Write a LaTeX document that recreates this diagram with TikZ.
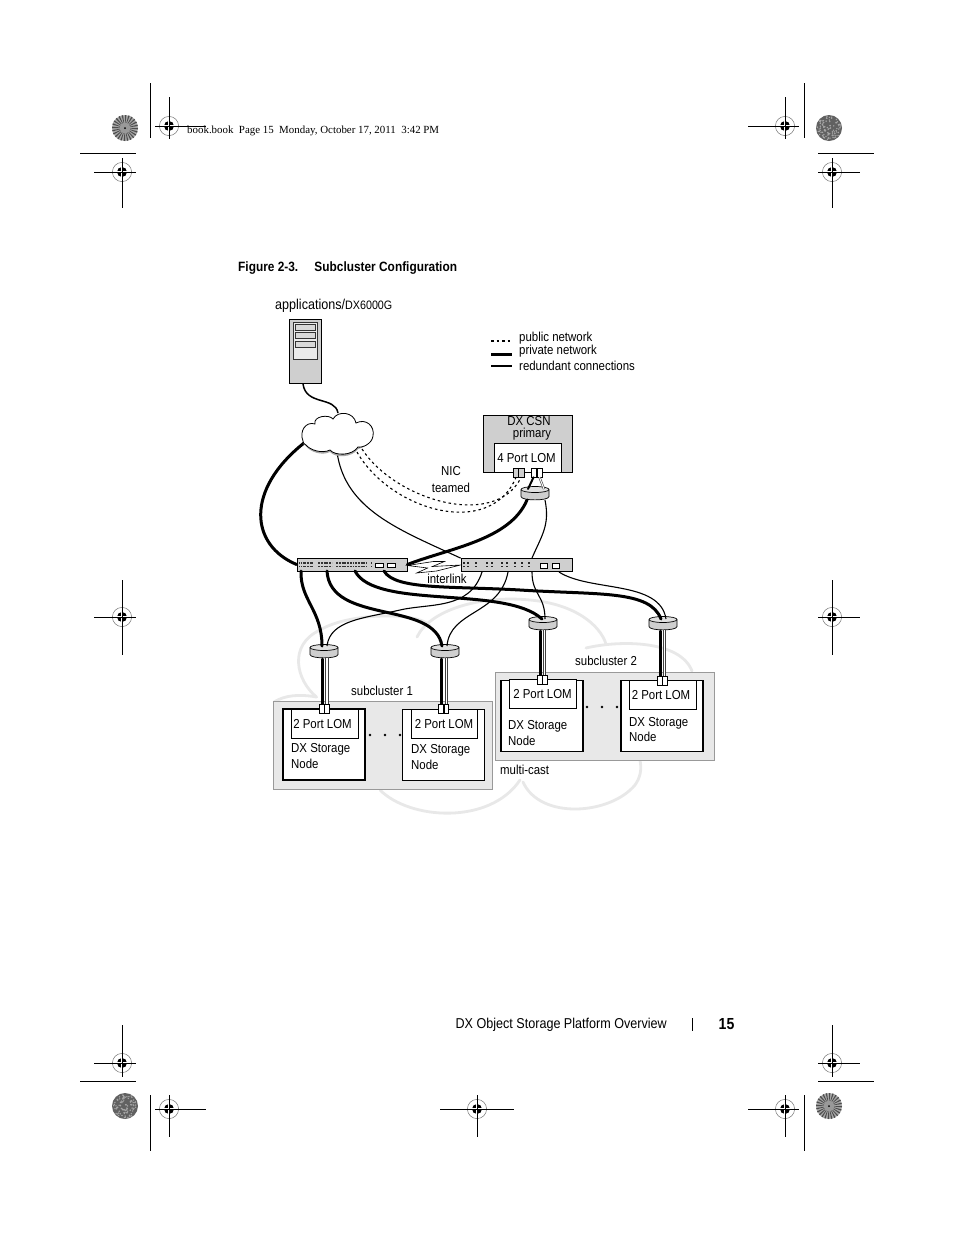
\documentclass[tikz,border=0pt]{standalone}
\usepackage{fontspec}
\setmainfont{Liberation Sans}
\newfontfamily\narrowfont[FakeStretch=0.88]{Liberation Sans}
\newfontfamily\slugfont{Liberation Serif}
\definecolor{boxgray}{HTML}{E8E8E8}
\definecolor{unitgray}{HTML}{CFCFCF}
\definecolor{edgegray}{HTML}{999999}
\tikzset{
  lbl/.style={inner sep=0pt,font=\narrowfont\fontsize{13}{14}\selectfont},
  lbll/.style={lbl,anchor=west,align=left},
  nodebox/.style={draw=black,fill=white,line width=1.6pt,inner sep=0pt,minimum width=82pt,minimum height=71pt},
  lombox/.style={lbl,draw=black,fill=white,line width=0.7pt,minimum width=67pt,minimum height=29pt},
  clusterbox/.style={draw=edgegray,fill=boxgray,line width=0.8pt,inner sep=0pt,minimum width=219pt,minimum height=88pt},
  switchbox/.style={draw=black,fill=unitgray,line width=0.8pt,inner sep=0pt,minimum width=110pt,minimum height=13pt},
  portbox/.style={draw=black,fill=white,line width=0.6pt,inner sep=0pt,minimum width=4.8pt,minimum height=9pt},
  teamport/.style={portbox,fill=unitgray},
  swport/.style={draw=black,fill=white,line width=0.6pt},
  swdots/.style={line width=1.3pt,black!80},
  privline/.style={line width=3pt,line cap=round},
  redline/.style={line width=1.1pt},
  publine/.style={line width=1.1pt,dash pattern=on 2.5pt off 3pt},
  caseline/.style={line width=3.2pt,black!75},
  coreline/.style={line width=1.8pt,white},
  bigcloud/.style={draw=boxgray,line width=2.8pt,line cap=round},
}
\newcommand{\regmark}[6]{
  \coordinate (rm) at (#1,#2);
  \fill[black] (rm) circle (5);
  \draw[white,line width=1.3pt] (#1-6,#2) -- (#1+6,#2) (#1,#2-6) -- (#1,#2+6);
  \draw[black!55,line width=0.5pt] (rm) circle (9.6);
  \draw[line width=0.8pt] (#1-#3,#2) -- (#1+#4,#2) (#1,#2-#5) -- (#1,#2+#6);
}
\newcommand{\sunburst}[2]{
  \fill[black!35] (#1,#2) circle (13);
  \foreach \a in {0,15,...,345}
    \fill[black!70] (#1,#2) -- ++(\a:13) arc[start angle=\a,end angle=\a+6,radius=13] -- cycle;
  \fill[black!40] (#1,#2) circle (5.5);
  \fill[black] (#1,#2) circle (1);
}
\newcommand{\noiseburst}[2]{
  \fill[black!62] (#1,#2) circle (13);
  \foreach \a in {1,...,90}{
    \pgfmathsetmacro{\rr}{12*sqrt(rnd)}
    \pgfmathsetmacro{\tt}{360*rnd}
    \fill[black!35] (#1,#2) ++(\tt:\rr) circle (0.8);
  }
}
\newcommand{\hubdrum}[3]{
  \coordinate (#1) at (#2,#3);
  \draw[fill=unitgray,line width=0.7pt] (#1) ++(-14,-3.5) -- ++(0,7) .. controls +(0,4.5) and +(0,4.5) .. ++(28,0) -- ++(0,-7);
  \draw[fill=black!12,line width=0.7pt] (#1) ++(0,-3.5) ellipse (14 and 3);
}
\begin{document}
\begin{tikzpicture}[x=1pt,y=-1pt]
    \useasboundingbox (0,0) rectangle (954,1235);
    \fill[white] (0,0) rectangle (954,1235);

    \pgfmathsetseed{15}
    \sunburst{125}{128}
    \noiseburst{829}{128}
    \noiseburst{125}{1106}
    \sunburst{829}{1106}
    \regmark{169}{126}{14}{37}{29}{13}
    \regmark{785}{126}{37}{14}{29}{13}
    \regmark{122}{172}{28}{14}{14}{36}
    \regmark{832}{172}{14}{28}{14}{36}
    \regmark{122}{617}{28}{14}{37}{38}
    \regmark{832}{617}{14}{28}{37}{38}
    \regmark{122}{1063}{28}{14}{38}{14}
    \regmark{832}{1063}{14}{28}{38}{14}
    \regmark{169}{1109}{14}{37}{14}{28}
    \regmark{477}{1109}{37}{37}{14}{28}
    \regmark{785}{1109}{37}{14}{14}{28}
    \draw[line width=0.8pt] (150,83) -- (150,138) (804,83) -- (804,138);
    \draw[line width=0.8pt] (80,153) -- (136,153) (818,153) -- (874,153);
    \draw[line width=0.8pt] (150,1095) -- (150,1151) (804,1095) -- (804,1151);
    \draw[line width=0.8pt] (80,1081) -- (136,1081) (818,1081) -- (874,1081);
    \node[inner sep=0pt,anchor=west,font=\slugfont\fontsize{10.9}{12}\selectfont] (slug) at (187,130.5) {book.book\ \ Page 15\ \ Monday, October 17, 2011\ \ 3:42 PM};
    \node[lbll,font=\narrowfont\bfseries\fontsize{13.5}{15}\selectfont] (figcap) at (238,268.5) {Figure 2-3.\hspace{1.2em}Subcluster Configuration};
    \node[lbl,anchor=east,font=\narrowfont\fontsize{14.3}{16}\selectfont] (foot) at (667,1024.5) {DX Object Storage Platform Overview};
    \draw[line width=0.8pt] (692,1018) -- (692,1031);
    \node[lbl,font=\narrowfont\bfseries\fontsize{16}{18}\selectfont] (pagenum) at (726.5,1024) {15};

    \draw[bigcloud] (316.5,697) .. controls (296,680) and (288,645) .. (320,630) .. controls (350,612) and (420,612) .. (430,626);
    \draw[bigcloud] (417,637) .. controls (430,610) and (480,595) .. (530,600) .. controls (575,604) and (600,625) .. (606,644);
    \draw[bigcloud] (586,648) .. controls (620,640) and (680,640) .. (692,671);
    \draw[bigcloud] (316.5,697) .. controls (300,694) and (285,695) .. (274,702);
    \draw[bigcloud] (380,790) .. controls (410,820) and (490,825) .. (520,780);
    \draw[bigcloud] (523,782) .. controls (540,820) and (610,815) .. (635,785) .. controls (640,778) and (642,770) .. (640,760);

    \node[clusterbox] (groupA) at (382.5,745.5) {};
    \node[clusterbox] (groupB) at (605,716.5) {};
    \node[nodebox] (nodeA) at (324,744.5) {};
    \node[nodebox] (nodeB) at (443.5,745) {};
    \node[nodebox] (nodeC) at (542,716) {};
    \node[nodebox] (nodeD) at (662,716) {};
    \node[lombox,text depth=0pt] (lomA) at (324.5,723.5) {\hspace{-4pt}2 Port LOM};
    \node[lombox,minimum width=66pt,text depth=0pt] (lomB) at (444,723.5) {2 Port LOM};
    \node[lombox,text depth=0pt] (lomC) at (542.5,694) {2 Port LOM};
    \node[lombox,text depth=0pt] (lomD) at (662.5,694.5) {\hspace{-3pt}2 Port LOM};
    \node[lbll] (nameA) at (291,756) {DX Storage\\[2pt]Node};
    \node[lbll] (nameB) at (411,757) {DX Storage\\[2pt]Node};
    \node[lbll] (nameC) at (508,733) {DX Storage\\[2pt]Node};
    \node[lbll] (nameD) at (629,729.5) {DX Storage\\[1pt]Node};
    \foreach \x in {370,385,400} \fill (\x,735) circle (1.3);
    \foreach \x in {587,602,617} \fill (\x,707) circle (1.3);
    \node[lbll] (subA) at (351,690.5) {subcluster 1};
    \node[lbll] (subB) at (575,660.5) {subcluster 2};
    \node[lbll] (multi) at (500,769.5) {multi-cast};

    \node[draw=black,fill=unitgray,line width=0.9pt,inner sep=0pt,minimum width=32pt,minimum height=64pt] (app) at (305,351.5) {};
    \node[draw=black!80,fill=black!8,line width=0.5pt,inner sep=0pt,minimum width=24pt,minimum height=37pt] (appfront) at (305,340.5) {};
    \foreach \y in {327,335,344}
      \draw[black!80,fill=black!15,line width=0.5pt] (295,\y-3) rectangle (315,\y+3);
    \node[lbl,anchor=west,font=\narrowfont\fontsize{14.3}{16}\selectfont] (applbl) at (275,306) {applications/{\fontsize{12.2}{14}\selectfont DX6000G}};

    \draw[publine] (491,341) -- (512,341);
    \draw[line width=3pt] (491,354) -- (512,354);
    \draw[line width=1.4pt] (491,366) -- (512,366);
    \node[lbll] (legA) at (519,338.5) {public network};
    \node[lbll] (legB) at (519,351.5) {private network};
    \node[lbll] (legC) at (519,365.5) {redundant connections};

    \node[draw=black,fill=unitgray,line width=0.9pt,inner sep=0pt,minimum width=89pt,minimum height=57pt] (csn) at (527.5,443.5) {};
    \node[lbl] (csnA) at (529,421.5) {DX CSN};
    \node[lbl] (csnB) at (532,434.5) {primary};
    \node[lombox,text depth=0pt] (lomE) at (527.5,457.5) {\hspace{-2pt}4 Port LOM};
    \node[lbl] (nic) at (451,471.5) {NIC};
    \node[lbl] (team) at (451,487.5) {teamed};

    \hubdrum{hubA}{324}{651}
    \hubdrum{hubB}{445}{651}
    \hubdrum{hubC}{543}{623}
    \hubdrum{hubD}{663}{623}
    \hubdrum{hubE}{535}{493}

    \node[switchbox] (swA) at (352,564.5) {};
    \node[switchbox,minimum width=111pt] (swB) at (516.5,565) {};
    \coordinate (swAa) at (301,571);
    \coordinate (swAb) at (327,571);
    \coordinate (swAc) at (355,571);
    \coordinate (swAd) at (384,571);
    \coordinate (swBa) at (482,572);
    \coordinate (swBb) at (508,572);
    \coordinate (swBc) at (532,572);
    \coordinate (swBd) at (559,572);
    \coordinate (hubAl) at (322,646);
    \coordinate (hubAr) at (327,646);
    \coordinate (hubBl) at (442,646);
    \coordinate (hubBr) at (447,646);
    \coordinate (hubCl) at (542,619);
    \coordinate (hubCr) at (545,619);
    \coordinate (hubDl) at (661,619);
    \coordinate (hubDr) at (666,619);
    \coordinate (hubEl) at (527,500);
    \coordinate (hubEr) at (545,500);
    \coordinate (swBtop) at (532,558);
    \coordinate (cloudA) at (338,413);
    \coordinate (cloudB) at (304,443);
    \coordinate (cloudC) at (337,452);
    \coordinate (cloudD) at (362,449);
    \coordinate (cloudE) at (357,452);

    \draw[line width=1.5pt] (app.south) ++(-2,0) .. controls +(3,22) and +(-3,-17) .. (cloudA);
    \draw[privline] (cloudB) .. controls (245,490) and (250,545) .. (swA.west);
    \draw[redline] (cloudC) .. controls (345,510) and (400,530) .. (swB.north west);
    \draw[privline] (hubEl) .. controls (510,540) and (450,548) .. (swA.east);
    \draw[redline] (hubEr) .. controls (550,525) and (542,535) .. (swBtop);

    \draw[privline] (swAa) .. controls (300,600) and (322,610) .. (hubAl);
    \draw[privline] (swAb) .. controls (330,625) and (435,600) .. (hubBl);
    \draw[privline] (swAc) .. controls (375,610) and (505,585) .. (hubCl);
    \draw[privline] (swAd) .. controls (395,590) and (450,586) .. (520,590) .. controls (600,595) and (650,590) .. (hubDl);
    \draw[redline] (swBa) .. controls (470,610) and (430,603) .. (400,610) .. controls (365,618) and (330,620) .. (hubAr);
    \draw[redline] (swBb) .. controls (500,615) and (450,610) .. (hubBr);
    \draw[redline] (swBc) .. controls (532,595) and (545,595) .. (hubCr);
    \draw[redline] (swBd) .. controls (590,592) and (660,580) .. (hubDr);

    \draw[caseline] (hubA) ++(3,7) -- ++(0,46);
    \draw[coreline] (hubA) ++(3,7) -- ++(0,46);
    \draw[privline] (hubA) ++(-1.5,8) -- ++(0,45);
    \draw[caseline] (hubB) ++(1.5,7) -- ++(0,46);
    \draw[coreline] (hubB) ++(1.5,7) -- ++(0,46);
    \draw[privline] (hubB) ++(-3.5,8) -- ++(0,45);
    \draw[caseline] (hubC) ++(1.5,7) -- ++(0,46);
    \draw[coreline] (hubC) ++(1.5,7) -- ++(0,46);
    \draw[privline] (hubC) ++(-3,8) -- ++(0,45);
    \draw[caseline] (hubD) ++(1.5,7) -- ++(0,46);
    \draw[coreline] (hubD) ++(1.5,7) -- ++(0,46);
    \draw[privline] (hubD) ++(-3,8) -- ++(0,45);

    \node[portbox] (portAa) at (321.8,708.5) {};
    \node[portbox] (portAb) at (326.4,708.5) {};
    \node[portbox] (portBa) at (440.6,708.5) {};
    \node[portbox] (portBb) at (446.2,708.5) {};
    \node[portbox] (portCa) at (539.6,680) {};
    \node[portbox] (portCb) at (544.4,680) {};
    \node[portbox] (portDa) at (659.6,680.5) {};
    \node[portbox] (portDb) at (664.4,680.5) {};
    \node[teamport,minimum width=5.4pt] (portEa) at (516,472.5) {};
    \node[teamport,minimum width=5.4pt] (portEb) at (521.2,472.5) {};
    \node[portbox] (portEc) at (533.5,472.5) {};
    \node[portbox] (portEd) at (539.5,472.5) {};
    \draw[line width=0.9pt] (portEb.east) -- (portEc.west);

    \draw[publine] (cloudD) .. controls (395,500) and (495,530) .. (portEb.south);
    \draw[publine] (cloudE) .. controls (390,510) and (490,540) .. (portEa.south);
    \coordinate (hubEa) at (528,489);
    \coordinate (hubEb) at (544,489);
    \draw[privline,line width=2pt] (portEc.south) -- (hubEa);
    \draw[caseline,line width=2.2pt] (portEd.south) -- (hubEb);
    \draw[coreline,line width=1pt] (portEd.south) -- (hubEb);

    \draw[fill=white,line width=0.6pt] (swA.east) ++(0,1) -- ++(26,-4) -- ++(11,0) -- ++(-12,5) -- (swB.west) -- ++(-24,6) -- ++(-20,2) -- ++(11,-5) -- cycle;
    \foreach \y in {563,566.5} {
      \draw[swdots,dash pattern=on 1.2pt off 1pt] (299,\y) -- (304,\y);
      \draw[swdots,dash pattern=on 2pt off 0.8pt] (304,\y) -- (313,\y);
      \draw[swdots,dash pattern=on 2pt off 0.8pt] (318,\y) -- (332,\y);
      \draw[swdots,dash pattern=on 2pt off 0.8pt] (336,\y) -- (353,\y);
      \draw[swdots,dash pattern=on 2pt off 0.8pt] (355,\y) -- (367,\y);
      \draw[swdots,dash pattern=on 1.2pt off 1pt] (371,\y) -- (372.5,\y);
      \foreach \x in {464,468,476,487,492,502,507,515,522,529}
        \fill[black!85] (\x-0.7,\y-0.7) rectangle (\x+0.7,\y+0.7);
    }
    \draw[swport] (375,563) rectangle (383,567);
    \draw[swport] (387,563) rectangle (395,567);
    \draw[swport] (540,563) rectangle (547,568);
    \draw[swport] (552,563) rectangle (559,568);
    \node[lbl] (ilink) at (447,578.5) {interlink};

    \fill[black!35] (303,442) .. controls (299,431) and (306,421) .. (315,424) .. controls (313,416) and (329,414) .. (333,419) .. controls (338,410) and (354,412) .. (356,423) .. controls (366,418) and (375,426) .. (373,436) .. controls (372,444) and (362,448) .. (358,449) .. controls (352,458) and (335,458) .. (330,452) .. controls (322,456) and (310,452) .. (306,446) .. controls (304,445) and (303,444) .. (303,442) -- cycle;
    \draw[fill=white,line width=0.8pt] (303,441) .. controls (299,431) and (306,421) .. (315,424) .. controls (313,416) and (329,414) .. (333,419) .. controls (338,410) and (354,412) .. (356,423) .. controls (366,418) and (375,426) .. (373,436) .. controls (372,444) and (362,448) .. (358,447) .. controls (352,456) and (335,456) .. (330,450) .. controls (322,454) and (310,450) .. (306,445) .. controls (304,444) and (303,443) .. (303,441) -- cycle;
\end{tikzpicture}
\end{document}
